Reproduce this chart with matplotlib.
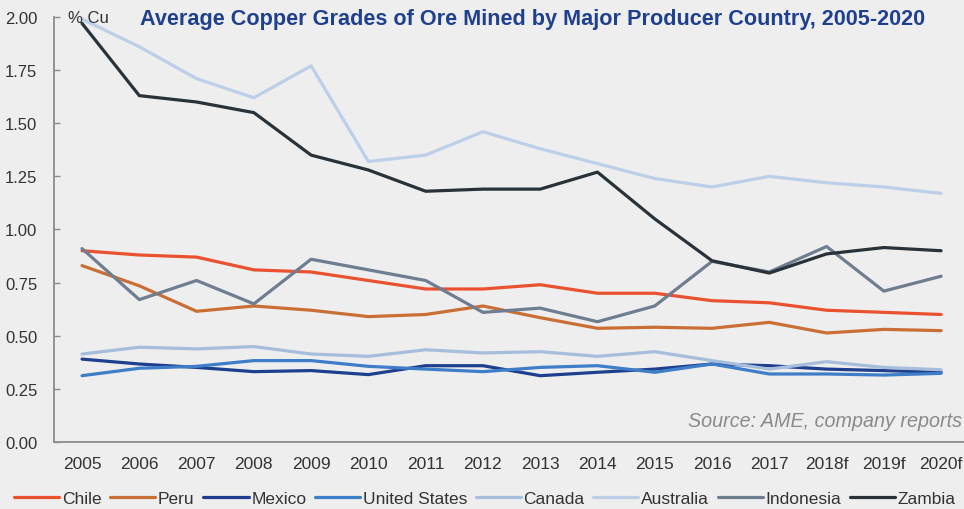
import numpy as np
import matplotlib.pyplot as plt

plt.rcParams['font.family'] = ['Liberation Sans', 'DejaVu Sans']

# ---- data: average ore grade, % Cu ----
years = ['2005', '2006', '2007', '2008', '2009', '2010', '2011', '2012',
         '2013', '2014', '2015', '2016', '2017', '2018f', '2019f', '2020f']

chile = [0.90, 0.88, 0.87, 0.81, 0.80, 0.76, 0.72, 0.72,
         0.74, 0.70, 0.70, 0.665, 0.655, 0.62, 0.61, 0.60]
peru = [0.83, 0.735, 0.615, 0.64, 0.62, 0.59, 0.60, 0.64,
        0.585, 0.535, 0.54, 0.535, 0.563, 0.513, 0.53, 0.524]
mexico = [0.39, 0.367, 0.351, 0.331, 0.336, 0.317, 0.359, 0.359,
          0.312, 0.328, 0.343, 0.367, 0.359, 0.343, 0.336, 0.328]
united_states = [0.312, 0.347, 0.356, 0.383, 0.383, 0.356, 0.343, 0.331,
                 0.351, 0.359, 0.328, 0.367, 0.32, 0.32, 0.315, 0.323]
canada = [0.414, 0.446, 0.438, 0.449, 0.414, 0.403, 0.434, 0.419,
          0.425, 0.403, 0.425, 0.383, 0.343, 0.378, 0.351, 0.34]
australia = [1.99, 1.86, 1.71, 1.62, 1.77, 1.32, 1.35, 1.46,
             1.38, 1.31, 1.24, 1.20, 1.25, 1.22, 1.20, 1.17]
indonesia = [0.91, 0.67, 0.76, 0.65, 0.86, 0.81, 0.76, 0.61,
             0.63, 0.566, 0.64, 0.85, 0.80, 0.92, 0.71, 0.78]
zambia = [1.97, 1.63, 1.60, 1.55, 1.35, 1.28, 1.18, 1.19,
          1.19, 1.27, 1.05, 0.853, 0.795, 0.885, 0.915, 0.90]

series = [
    ('Chile', chile, '#e9512f'),
    ('Peru', peru, '#c96f35'),
    ('Mexico', mexico, '#1d3f8e'),
    ('United States', united_states, '#3e7dc8'),
    ('Canada', canada, '#a6bedb'),
    ('Australia', australia, '#bccfe9'),
    ('Indonesia', indonesia, '#6e7d90'),
    ('Zambia', zambia, '#283238'),
]

BG = '#eeeeee'

fig = plt.figure(figsize=(9.64, 5.10), dpi=100, facecolor=BG)
ax = fig.add_axes([0.056, 0.1314, 0.944, 0.8333], facecolor=BG)

x = np.arange(len(years))
for name, vals, color in series:
    ax.plot(x, vals, color=color, lw=2.3, label=name, solid_capstyle='round')

ax.set_xlim(-0.49, 15.4)
ax.set_ylim(0, 2.0)
ax.set_yticks(np.arange(0, 2.01, 0.25))
ax.set_yticklabels([f'{v:.2f}' for v in np.arange(0, 2.01, 0.25)])
ax.set_xticks(x)
ax.set_xticklabels(years)

for side in ('top', 'right'):
    ax.spines[side].set_visible(False)
for side in ('left', 'bottom'):
    ax.spines[side].set_color('#8c8c8c')
    ax.spines[side].set_linewidth(1.3)

ax.tick_params(axis='y', direction='in', length=4, width=1, color='#8c8c8c',
               pad=12, labelsize=12, labelcolor='#333333')
ax.tick_params(axis='x', length=0, pad=10, labelsize=12.5, labelcolor='#333333')

ax.text(0.015, 1.0, '% Cu', transform=ax.transAxes, ha='left', va='center',
        fontsize=12, color='#333333')
fig.text(0.552, 0.962, 'Average Copper Grades of Ore Mined by Major Producer Country, 2005-2020',
         ha='center', va='center', fontsize=15.6, fontweight='bold', color='#1f3f8f')
ax.text(0.998, 0.05, 'Source: AME, company reports', transform=ax.transAxes,
        ha='right', va='center', fontsize=14.2, style='italic', color='#8a8a8a')

fig.legend(loc='center', bbox_to_anchor=(0.503, 0.02), ncol=8, frameon=False,
           fontsize=12.5, handlelength=2.6, handletextpad=0.15,
           columnspacing=0.5, borderaxespad=0, labelcolor='#333333')

fig.savefig('out.png', dpi=100, facecolor=BG)
